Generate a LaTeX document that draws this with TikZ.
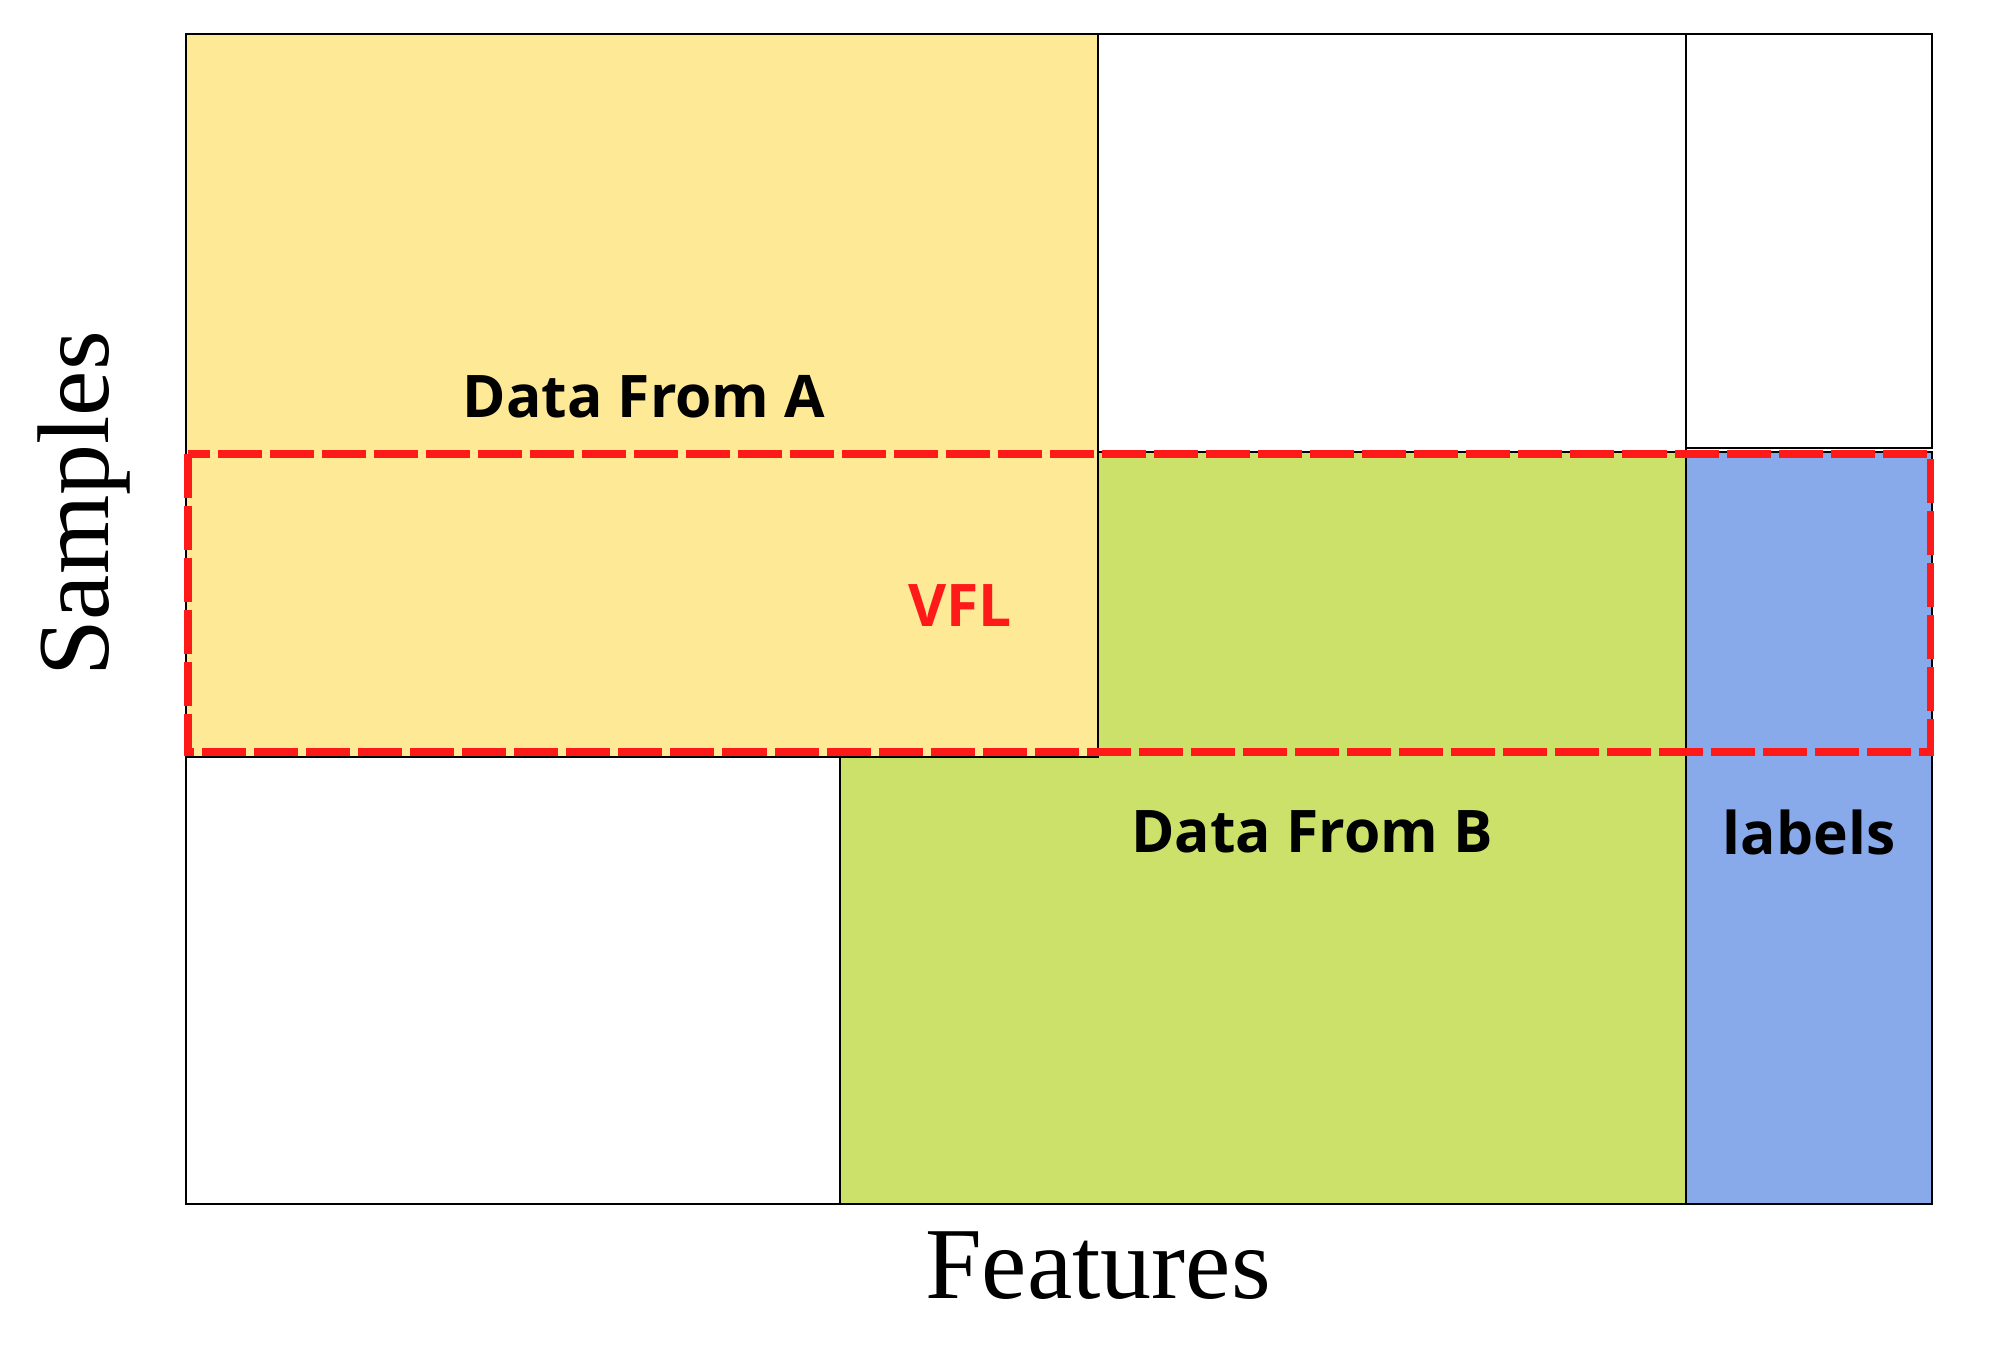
\documentclass[tikz,border=0pt]{standalone}
\usepackage{fontspec}
\setmainfont{Liberation Serif}
\newfontfamily\boxfont{Open Sans}
\usepackage{tikz}
\usetikzlibrary{positioning}
\definecolor{partyA}{RGB}{254,233,150}
\definecolor{partyB}{RGB}{203,225,106}
\definecolor{labelblue}{RGB}{136,170,234}
\definecolor{vflred}{RGB}{255,26,26}

\begin{document}
\begin{tikzpicture}[x=0.01cm, y=-0.01cm,
    % 1. BLOQUES DE DATOS
    block/.style={draw=black, line width=0.8pt},
    % 2. RECUADRO VFL (discontinuo)
    vflbox/.style={draw=vflred, line width=2pt,
        dash pattern=on 0.44cm off 0.08cm},
    % 3. TEXTOS
    boxtext/.style={font=\boxfont\bfseries\fontsize{16.7}{20}\selectfont, inner sep=0pt},
    axistext/.style={font=\fontsize{29}{34}\selectfont, inner sep=0pt}
]
    \useasboundingbox (0,0) rectangle (2000,1371);

    % --- DATOS DE B (debajo de A) ---
    \draw[block, fill=partyB] (840,452) rectangle (1686,1204);

    % --- DATOS DE A ---
    \draw[block, fill=partyA] (186,34) rectangle (1098,757);

    % --- CELDAS VACIAS ---
    \draw[block, fill=white] (1098,34) rectangle (1686,452);
    \draw[block, fill=white] (1686,34) rectangle (1932,448);
    \draw[block, fill=white] (186,757) rectangle (840,1204);

    % --- ETIQUETAS ---
    \draw[block, fill=labelblue] (1686,452) rectangle (1932,1204);

    % --- ZONA VFL ---
    \draw[vflbox] (188,454) rectangle (1930,752);

    % --- TEXTOS ---
    \node[boxtext] (dataA) at (644,397) {Data From A};
    \node[boxtext, text=vflred] (vfl) at (960,606) {VFL};
    \node[boxtext] (dataB) at (1312,832) {Data From B};
    \node[boxtext] (labels) at (1809,832) {labels};

    \node[axistext] (features) at (1098,1266) {Features};
    \node[axistext, rotate=90] (samples) at (84,504) {Samples};

\end{tikzpicture}
\end{document}
